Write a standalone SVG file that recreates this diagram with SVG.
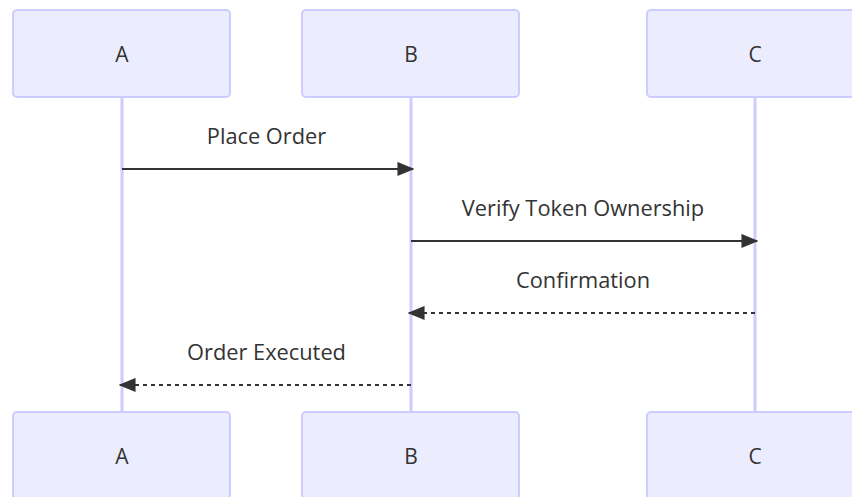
<svg xmlns="http://www.w3.org/2000/svg" width="852" height="497" viewBox="0 0 852 497">
  <style>
    .actor { fill: #ECECFF; stroke: #CCCCFF; stroke-width: 2; }
    .actor-label { font-family: "Open Sans", "Noto Sans", sans-serif; font-size: 21px; fill: #333; text-anchor: middle; dominant-baseline: central; }
    .lifeline { stroke: #CCCCFF; stroke-width: 3; }
    .msg { stroke: #333; stroke-width: 2; fill: none; }
    .dashed { stroke-dasharray: 4 4; }
    .msg-label { font-family: "Open Sans", "Noto Sans", sans-serif; font-size: 21.8px; fill: #333; text-anchor: middle; }
  </style>
  <defs>
    <marker id="arrowhead" viewBox="0 0 12 10" refX="11" refY="5" markerUnits="userSpaceOnUse" markerWidth="17" markerHeight="15" orient="auto">
      <path d="M0,0 L12,5 L0,10 z" fill="#333"/>
    </marker>
  </defs>
  <rect width="852" height="497" fill="#ffffff"/>

  <g id="lifelines">
    <line class="lifeline" x1="122" y1="97" x2="122" y2="412"/>
    <line class="lifeline" x1="411" y1="97" x2="411" y2="412"/>
    <line class="lifeline" x1="755" y1="97" x2="755" y2="412"/>
  </g>

  <g id="actor-A-top">
    <rect class="actor" x="13" y="10" width="217" height="87" rx="4"/>
    <text class="actor-label" x="122" y="54">A</text>
  </g>
  <g id="actor-B-top">
    <rect class="actor" x="302" y="10" width="217" height="87" rx="4"/>
    <text class="actor-label" x="411" y="54">B</text>
  </g>
  <g id="actor-C-top">
    <rect class="actor" x="647" y="10" width="217" height="87" rx="4"/>
    <text class="actor-label" x="755" y="54">C</text>
  </g>

  <g id="actor-A-bottom">
    <rect class="actor" x="13" y="412" width="217" height="87" rx="4"/>
    <text class="actor-label" x="122" y="456">A</text>
  </g>
  <g id="actor-B-bottom">
    <rect class="actor" x="302" y="412" width="217" height="87" rx="4"/>
    <text class="actor-label" x="411" y="456">B</text>
  </g>
  <g id="actor-C-bottom">
    <rect class="actor" x="647" y="412" width="217" height="87" rx="4"/>
    <text class="actor-label" x="755" y="456">C</text>
  </g>

  <g id="connectors">
    <line class="msg" x1="122" y1="169" x2="413" y2="169" marker-end="url(#arrowhead)"/>
    <line class="msg" x1="411" y1="241" x2="757" y2="241" marker-end="url(#arrowhead)"/>
    <line class="msg dashed" x1="755" y1="313" x2="409" y2="313" marker-end="url(#arrowhead)"/>
    <line class="msg dashed" x1="411" y1="385" x2="120" y2="385" marker-end="url(#arrowhead)"/>
  </g>

  <g id="message-labels">
    <text class="msg-label" x="266.5" y="144">Place Order</text>
    <text class="msg-label" x="583" y="216">Verify Token Ownership</text>
    <text class="msg-label" x="583" y="288">Confirmation</text>
    <text class="msg-label" x="266.5" y="360">Order Executed</text>
  </g>
</svg>
